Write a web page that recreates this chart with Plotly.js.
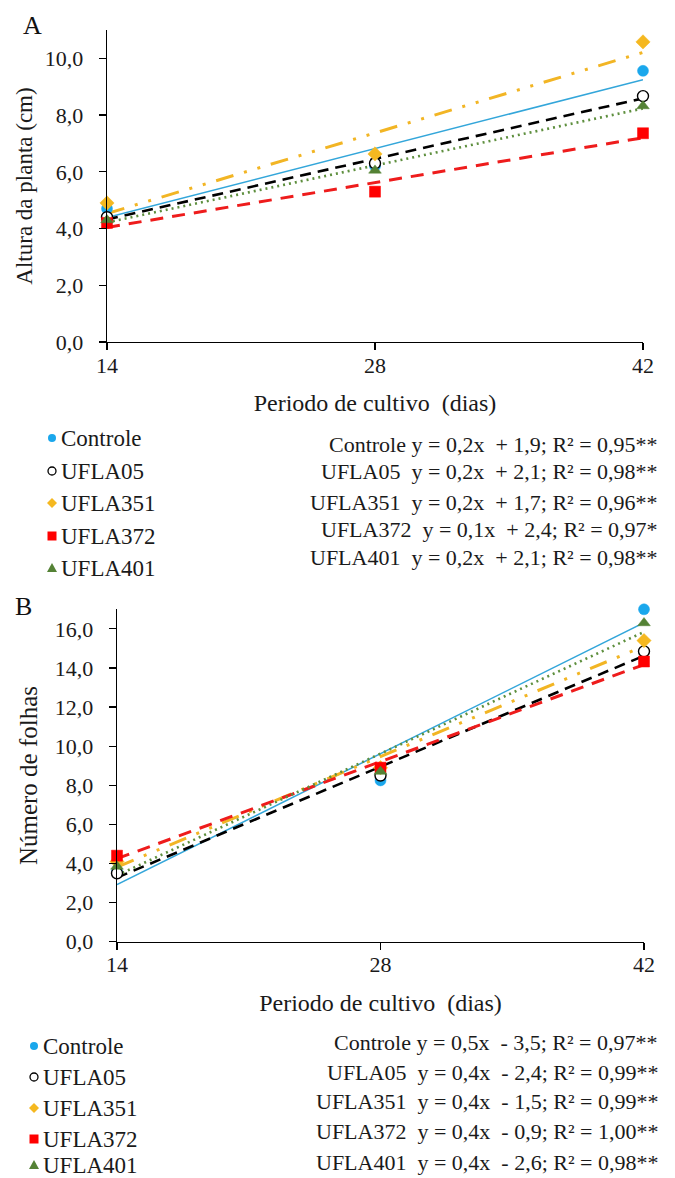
<!DOCTYPE html>
<html>
<head>
<meta charset="utf-8">
<script src="https://cdn.plot.ly/plotly-3.0.1.min.js"></script>
<style>html,body{margin:0;padding:0;background:#fff;}#chart{width:675px;height:1178px;}</style>
</head>
<body>
<div id="chart"></div>
<script>
// ---------- data ----------
const days = [14, 28, 42];
const seriesNames = ['Controle', 'UFLA05', 'UFLA351', 'UFLA372', 'UFLA401'];

// Panel A: Altura da planta (cm)
const alturaControle = [4.70, 6.20, 9.56];
const alturaUFLA05   = [4.40, 6.30, 8.67];
const alturaUFLA351  = [4.90, 6.63, 10.58];
const alturaUFLA372  = [4.20, 5.30, 7.36];
const alturaUFLA401  = [4.30, 6.05, 8.32];

// Panel B: Número de folhas
const folhasControle = [3.60, 8.25, 17.00];
const folhasUFLA05   = [3.50, 8.50, 14.85];
const folhasUFLA351  = [4.10, 8.90, 15.40];
const folhasUFLA372  = [4.40, 8.90, 14.33];
const folhasUFLA401  = [3.85, 8.70, 16.30];

const xTickLabels = ['14', '28', '42'];
const eqTextA = [
  'Controle y = 0,2x \u00A0+ 1,9; R² = 0,95**',
  'UFLA05 \u00A0y = 0,2x \u00A0+ 2,1; R² = 0,98**',
  'UFLA351 \u00A0y = 0,2x \u00A0+ 1,7; R² = 0,96**',
  'UFLA372 \u00A0y = 0,1x \u00A0+ 2,4; R² = 0,97*',
  'UFLA401 \u00A0y = 0,2x \u00A0+ 2,1; R² = 0,98**'
];
const eqTextB = [
  'Controle y = 0,5x \u00A0- 3,5; R² = 0,97**',
  'UFLA05 \u00A0y = 0,4x \u00A0- 2,4; R² = 0,99**',
  'UFLA351 \u00A0y = 0,4x \u00A0- 1,5; R² = 0,99**',
  'UFLA372 \u00A0y = 0,4x \u00A0- 0,9; R² = 1,00**',
  'UFLA401 \u00A0y = 0,4x \u00A0- 2,6; R² = 0,98**'
];

// ---------- styles ----------
const W = 675, H = 1178;
const FONT = 'Liberation Serif, Times New Roman, serif';
const TXT = '#1a1a1a';
const styles = [
  {mcolor: '#1AA7EC', symbol: 'circle', mline: '#1AA7EC', lcolor: '#33A6DA', lwidth: 1.5, dash: 'solid'},
  {mcolor: '#FFFFFF', symbol: 'circle', mline: '#000000', lcolor: '#000000', lwidth: 2.6, dash: '11px,7px'},
  {mcolor: '#F5B820', symbol: 'diamond', mline: '#F5B820', lcolor: '#F2B524', lwidth: 3, dash: '18px,11px,3px,11px,3px,11px'},
  {mcolor: '#FF0000', symbol: 'square', mline: '#FF0000', lcolor: '#EE1C1C', lwidth: 3, dash: '13px,9px'},
  {mcolor: '#548235', symbol: 'triangle-up', mline: '#548235', lcolor: '#5E8F3E', lwidth: 2.6, dash: '2px,4px'}
];

function fit(x, y) {
  const n = x.length;
  const mx = x.reduce((a, b) => a + b, 0) / n;
  const my = y.reduce((a, b) => a + b, 0) / n;
  let sxy = 0, sxx = 0;
  for (let i = 0; i < n; i++) { sxy += (x[i] - mx) * (y[i] - my); sxx += (x[i] - mx) ** 2; }
  const b = sxy / sxx, a = my - b * mx;
  const xs = [x[0], x[n - 1]];
  return {x: xs, y: xs.map(v => a + b * v)};
}

const dataA = [alturaControle, alturaUFLA05, alturaUFLA351, alturaUFLA372, alturaUFLA401];
const dataB = [folhasControle, folhasUFLA05, folhasUFLA351, folhasUFLA372, folhasUFLA401];

const traces = [];
function addPanel(data, xa, ya) {
  data.forEach((ys, i) => {
    const f = fit(days, ys);
    traces.push({x: f.x, y: f.y, xaxis: xa, yaxis: ya, mode: 'lines', showlegend: false,
      name: seriesNames[i] + ' (tendência)', cliponaxis: false,
      line: {color: styles[i].lcolor, width: styles[i].lwidth, dash: styles[i].dash}});
  });
  data.forEach((ys, i) => {
    traces.push({x: days, y: ys, xaxis: xa, yaxis: ya, mode: 'markers', showlegend: false,
      name: seriesNames[i], cliponaxis: false,
      marker: {symbol: styles[i].symbol, size: 11,
        color: styles[i].mcolor, line: {color: styles[i].mline, width: i === 1 ? 1.4 : 0.5}}});
  });
}
addPanel(dataA, 'x', 'y');
addPanel(dataB, 'x2', 'y2');

const px = v => v / W;
const py = v => 1 - v / H;

const axisCommon = {
  showgrid: false, zeroline: false, showline: true, linecolor: '#000', linewidth: 1.3,
  ticks: 'outside', tickcolor: '#000', tickwidth: 1.3, tickfont: {family: FONT, size: 22, color: TXT}
};
const xCommon = Object.assign({}, axisCommon, {
  range: [14, 42], tickvals: days, ticktext: xTickLabels, ticklen: 7, ticklabelstandoff: -4,
  title: {text: 'Periodo de cultivo \u00A0(dias)', font: {family: FONT, size: 24, color: TXT}, standoff: 17}
});
const yCommon = Object.assign({}, axisCommon, {
  dtick: 2, tick0: 0, tickformat: '.1f', ticklen: 7, ticklabelstandoff: 11
});

const layout = {
  width: W, height: H, margin: {l: 0, r: 0, t: 0, b: 0},
  paper_bgcolor: '#fff', plot_bgcolor: '#fff', separators: ',.', showlegend: false,
  font: {family: FONT, color: TXT},
  xaxis: Object.assign({}, xCommon, {domain: [px(107), px(643)], anchor: 'y'}),
  yaxis: Object.assign({}, yCommon, {domain: [py(342), py(30)], range: [0, 11], anchor: 'x',
    title: {text: 'Altura da planta (cm)', font: {family: FONT, size: 23, color: TXT}, standoff: 5}}),
  xaxis2: Object.assign({}, xCommon, {domain: [px(117), px(644)], anchor: 'y2'}),
  yaxis2: Object.assign({}, yCommon, {domain: [py(941.7), py(609.3)], range: [0, 17], anchor: 'x2',
    title: {text: 'Número de folhas', font: {family: FONT, size: 25, color: TXT}, standoff: 10}}),
  annotations: [],
  shapes: []
};

// Panel letters
layout.annotations.push({text: 'A', x: px(32), y: py(26), xref: 'paper', yref: 'paper', showarrow: false,
  xanchor: 'center', yanchor: 'middle', font: {family: FONT, size: 26, color: '#111'}});
layout.annotations.push({text: 'B', x: px(23), y: py(606), xref: 'paper', yref: 'paper', showarrow: false,
  xanchor: 'center', yanchor: 'middle', font: {family: FONT, size: 26, color: '#111'}});

// legends (markers + names) and trendline equations
const legA = {markerX: 52, rows: [438, 471, 503, 536, 568], eqRows: [445, 471, 502, 529, 557]};
const legB = {markerX: 34, rows: [1046, 1077, 1108, 1139, 1165], eqRows: [1042, 1072, 1101, 1131, 1162]};

function legendShape(i, cx, cy) {
  const s = styles[i];
  const base = {xref: 'paper', yref: 'paper', xsizemode: 'pixel', ysizemode: 'pixel',
    xanchor: px(cx), yanchor: py(cy), fillcolor: s.mcolor, line: {color: s.mline, width: i === 1 ? 1.3 : 0}};
  if (s.symbol === 'circle') return Object.assign(base, {type: 'circle', x0: -4, x1: 4, y0: -4, y1: 4});
  if (s.symbol === 'square') return Object.assign(base, {type: 'rect', x0: -4.5, x1: 4.5, y0: -4.5, y1: 4.5});
  if (s.symbol === 'diamond') return Object.assign(base, {type: 'path', path: 'M 0 -5 L 5 0 L 0 5 L -5 0 Z'});
  return Object.assign(base, {type: 'path', path: 'M -5 -4 L 5 -4 L 0 5 Z'});
}

[legA, legB].forEach((lg, p) => {
  const eqs = p === 0 ? eqTextA : eqTextB;
  seriesNames.forEach((nm, i) => {
    layout.shapes.push(legendShape(i, lg.markerX, lg.rows[i]));
    layout.annotations.push({text: nm, x: px(lg.markerX + 7), y: py(lg.rows[i]), xref: 'paper', yref: 'paper',
      xanchor: 'left', yanchor: 'middle', showarrow: false, font: {family: FONT, size: 23, color: TXT}});
    layout.annotations.push({text: eqs[i], x: px(660), y: py(lg.eqRows[i]), xref: 'paper', yref: 'paper',
      xanchor: 'right', yanchor: 'middle', showarrow: false, font: {family: FONT, size: 22, color: TXT}});
  });
});

Plotly.newPlot('chart', traces, layout, {staticPlot: true, displayModeBar: false});
</script>
</body>
</html>
